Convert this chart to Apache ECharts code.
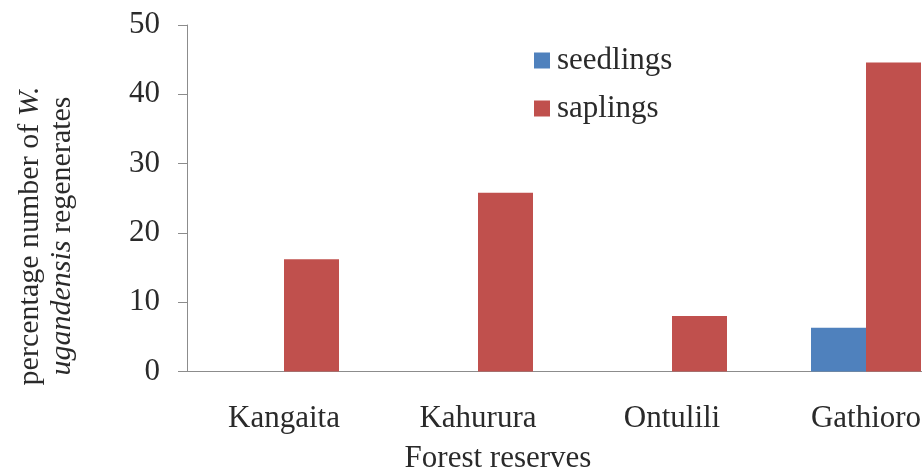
<!DOCTYPE html>
<html>
<head>
<meta charset="utf-8">
<script src="https://cdn.jsdelivr.net/npm/echarts@6/dist/echarts.min.js"></script>
<style>
  html, body { margin: 0; padding: 0; background: #fff; overflow: hidden; }
  /* the plot runs past the right edge of the window, so the canvas is wider than the view */
  #chart { width: 970px; height: 470px; }
</style>
</head>
<body>
<div id="chart"></div>
<script>
// Forest reserves and the share of regenerates found in each
const reserves = ['Kangaita', 'Kahurura', 'Ontulili', 'Gathioro'];
const seedlings = [0, 0, 0, 6.3];
const saplings = [16.2, 25.8, 8.0, 44.6];
const yTicks = { min: 0, max: 50, step: 10 };

const serif = '"Liberation Serif", "Times New Roman", serif';
const ink = '#2a2a2a';
const axisGrey = '#8c8c8c';

const chart = echarts.init(document.getElementById('chart'), null, { renderer: 'canvas' });

chart.setOption({
  animation: false,
  backgroundColor: '#ffffff',
  grid: { left: 187, top: 25, width: 776, height: 346.5, containLabel: false },
  legend: {
    orient: 'vertical',
    left: 529,
    top: 40,
    icon: 'rect',
    itemWidth: 16,
    itemHeight: 16,
    itemGap: 17,
    textStyle: { fontFamily: serif, fontSize: 31, color: ink, padding: [0, 0, 0, 2] },
    data: ['seedlings', 'saplings']
  },
  xAxis: {
    type: 'category',
    data: reserves,
    axisLine: { lineStyle: { color: axisGrey, width: 1 } },
    axisTick: { show: false },
    axisLabel: { fontFamily: serif, fontSize: 31, color: ink, margin: 32 }
  },
  yAxis: {
    type: 'value',
    min: yTicks.min,
    max: yTicks.max,
    interval: yTicks.step,
    axisLine: { show: true, lineStyle: { color: axisGrey, width: 1 } },
    axisTick: { show: true, length: 9, lineStyle: { color: axisGrey } },
    splitLine: { show: false },
    axisLabel: { fontFamily: serif, fontSize: 31, color: ink, margin: 27 }
  },
  series: [
    {
      name: 'seedlings',
      type: 'bar',
      data: seedlings,
      barWidth: 55,
      barGap: '0%',
      itemStyle: { color: '#4F81BD' }
    },
    {
      name: 'saplings',
      type: 'bar',
      data: saplings,
      barWidth: 55,
      barGap: '0%',
      itemStyle: { color: '#C0504D' }
    }
  ],
  graphic: [
    {
      type: 'text',
      x: 46,
      y: 236,
      rotation: Math.PI / 2,
      style: {
        text: 'percentage number of {i|W.}\n{i|ugandensis} regenerates',
        fontFamily: serif,
        fontSize: 30,
        lineHeight: 32,
        fill: ink,
        align: 'center',
        verticalAlign: 'middle',
        rich: {
          i: { fontFamily: serif, fontSize: 30, fontStyle: 'italic', lineHeight: 32, fill: ink }
        }
      }
    },
    {
      type: 'text',
      x: 498,
      y: 443,
      style: {
        text: 'Forest reserves',
        fontFamily: serif,
        fontSize: 31,
        fill: ink,
        align: 'center',
        verticalAlign: 'top'
      }
    }
  ]
});
</script>
</body>
</html>
